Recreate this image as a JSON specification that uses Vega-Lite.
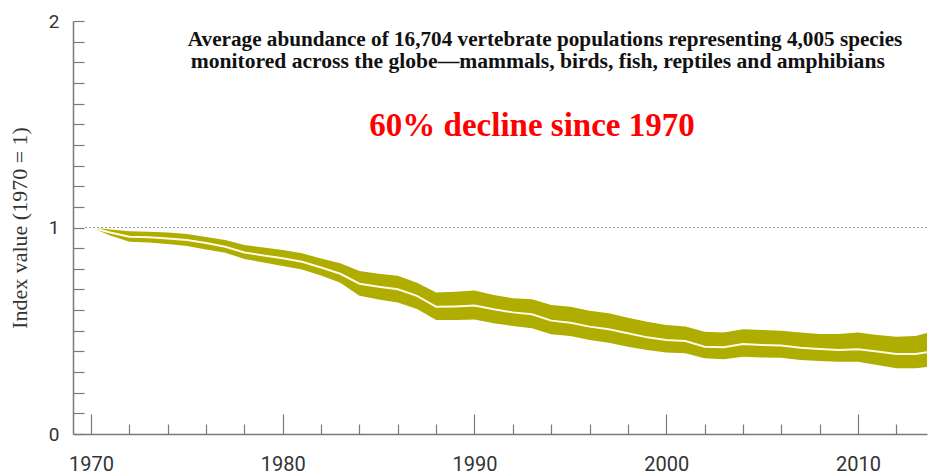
{
  "$schema": "https://vega.github.io/schema/vega-lite/v6.json",
  "width": 854,
  "height": 413,
  "autosize": "none",
  "padding": {"left": 73, "top": 21, "right": 1, "bottom": 41},
  "background": "white",
  "config": {"view": {"stroke": null}},
  "data": {
    "values": [
      {"year": 1970, "upper": 1.000, "mid": 1.000, "lower": 1.000},
      {"year": 1971, "upper": 0.990, "mid": 0.976, "lower": 0.961},
      {"year": 1972, "upper": 0.982, "mid": 0.955, "lower": 0.931},
      {"year": 1973, "upper": 0.980, "mid": 0.953, "lower": 0.927},
      {"year": 1974, "upper": 0.976, "mid": 0.947, "lower": 0.920},
      {"year": 1975, "upper": 0.969, "mid": 0.939, "lower": 0.910},
      {"year": 1976, "upper": 0.954, "mid": 0.925, "lower": 0.893},
      {"year": 1977, "upper": 0.939, "mid": 0.907, "lower": 0.878},
      {"year": 1978, "upper": 0.915, "mid": 0.879, "lower": 0.847},
      {"year": 1979, "upper": 0.903, "mid": 0.864, "lower": 0.831},
      {"year": 1980, "upper": 0.891, "mid": 0.851, "lower": 0.814},
      {"year": 1981, "upper": 0.875, "mid": 0.834, "lower": 0.797},
      {"year": 1982, "upper": 0.850, "mid": 0.806, "lower": 0.768},
      {"year": 1983, "upper": 0.827, "mid": 0.776, "lower": 0.732},
      {"year": 1984, "upper": 0.789, "mid": 0.728, "lower": 0.669},
      {"year": 1985, "upper": 0.776, "mid": 0.713, "lower": 0.651},
      {"year": 1986, "upper": 0.766, "mid": 0.701, "lower": 0.637},
      {"year": 1987, "upper": 0.732, "mid": 0.669, "lower": 0.605},
      {"year": 1988, "upper": 0.685, "mid": 0.616, "lower": 0.552},
      {"year": 1989, "upper": 0.689, "mid": 0.618, "lower": 0.552},
      {"year": 1990, "upper": 0.695, "mid": 0.622, "lower": 0.554},
      {"year": 1991, "upper": 0.673, "mid": 0.604, "lower": 0.536},
      {"year": 1992, "upper": 0.657, "mid": 0.589, "lower": 0.523},
      {"year": 1993, "upper": 0.652, "mid": 0.580, "lower": 0.512},
      {"year": 1994, "upper": 0.625, "mid": 0.549, "lower": 0.483},
      {"year": 1995, "upper": 0.616, "mid": 0.539, "lower": 0.475},
      {"year": 1996, "upper": 0.597, "mid": 0.520, "lower": 0.455},
      {"year": 1997, "upper": 0.585, "mid": 0.507, "lower": 0.442},
      {"year": 1998, "upper": 0.563, "mid": 0.488, "lower": 0.423},
      {"year": 1999, "upper": 0.544, "mid": 0.468, "lower": 0.407},
      {"year": 2000, "upper": 0.528, "mid": 0.455, "lower": 0.395},
      {"year": 2001, "upper": 0.520, "mid": 0.450, "lower": 0.391},
      {"year": 2002, "upper": 0.495, "mid": 0.423, "lower": 0.367},
      {"year": 2003, "upper": 0.491, "mid": 0.420, "lower": 0.362},
      {"year": 2004, "upper": 0.507, "mid": 0.436, "lower": 0.374},
      {"year": 2005, "upper": 0.504, "mid": 0.431, "lower": 0.371},
      {"year": 2006, "upper": 0.500, "mid": 0.428, "lower": 0.369},
      {"year": 2007, "upper": 0.491, "mid": 0.418, "lower": 0.358},
      {"year": 2008, "upper": 0.484, "mid": 0.412, "lower": 0.354},
      {"year": 2009, "upper": 0.484, "mid": 0.407, "lower": 0.350},
      {"year": 2010, "upper": 0.491, "mid": 0.410, "lower": 0.350},
      {"year": 2011, "upper": 0.479, "mid": 0.399, "lower": 0.334},
      {"year": 2012, "upper": 0.471, "mid": 0.387, "lower": 0.318},
      {"year": 2013, "upper": 0.475, "mid": 0.387, "lower": 0.318},
      {"year": 2014, "upper": 0.499, "mid": 0.402, "lower": 0.329}
    ]
  },
  "layer": [
    {
      "mark": {"type": "area", "color": "#aead00", "clip": true},
      "encoding": {
        "x": {
          "field": "year",
          "type": "quantitative",
          "scale": {"domain": [1969.06, 2013.6], "nice": false, "zero": false},
          "axis": {
            "title": null,
            "grid": false,
            "values": [1970,1971,1972,1973,1974,1975,1976,1977,1978,1979,1980,1981,1982,1983,1984,1985,1986,1987,1988,1989,1990,1991,1992,1993,1994,1995,1996,1997,1998,1999,2000,2001,2002,2003,2004,2005,2006,2007,2008,2009,2010,2011,2012,2013],
            "format": "d",
            "labelExpr": "datum.value % 10 === 0 ? datum.label : ''",
            "tickSize": {"condition": {"test": "datum.value % 10 === 0", "value": -20}, "value": -10},
            "labelFlush": false,
            "labelOverlap": false,
            "domainColor": "#7a7a7a",
            "domainWidth": 1.5,
            "tickColor": "#7a7a7a",
            "tickWidth": 1.2,
            "labelFont": "Roboto",
            "labelFontSize": 20,
            "labelColor": "#333333",
            "labelPadding": 40
          }
        },
        "y": {
          "field": "upper",
          "type": "quantitative",
          "scale": {"domain": [0, 2], "nice": false},
          "axis": {
            "title": "Index value (1970 = 1)",
            "grid": false,
            "values": [0,0.1,0.2,0.3,0.4,0.5,0.6,0.7,0.8,0.9,1,1.1,1.2,1.3,1.4,1.5,1.6,1.7,1.8,1.9,2],
            "labelExpr": "abs(datum.value - round(datum.value)) < 0.001 ? format(datum.value, 'd') : ''",
            "tickSize": {"condition": {"test": "datum.value > 5", "value": -11}, "value": -11},
            "tickCount": 21,
            "labelFlush": false,
            "labelOverlap": false,
            "domainColor": "#7a7a7a",
            "domainWidth": 1.5,
            "tickColor": "#7a7a7a",
            "tickWidth": 1.2,
            "labelFont": "Roboto",
            "labelFontSize": 19,
            "labelColor": "#333333",
            "labelPadding": 25,
            "titleFont": "Liberation Serif",
            "titleFontSize": 22,
            "titleFontWeight": "normal",
            "titleColor": "#333333",
            "titlePadding": 17
          }
        },
        "y2": {"field": "lower"}
      }
    },
    {
      "mark": {"type": "line", "color": "#fffbe8", "strokeWidth": 2, "clip": true},
      "encoding": {
        "x": {"field": "year", "type": "quantitative"},
        "y": {"field": "mid", "type": "quantitative", "title": "Index value (1970 = 1)"}
      }
    },
    {
      "data": {"values": [{}]},
      "mark": {"type": "rule", "stroke": "#808080", "strokeDash": [1.5, 2.5], "strokeWidth": 1.2},
      "encoding": {
        "x": {"datum": 1969.7, "type": "quantitative"},
        "x2": {"datum": 2014},
        "y": {"datum": 1, "type": "quantitative"}
      }
    },
    {
      "data": {"values": [{}]},
      "mark": {"type": "text", "text": "Average abundance of 16,704 vertebrate populations representing 4,005 species", "font": "Liberation Serif", "fontWeight": "bold", "fontSize": 21.2, "color": "#111111", "align": "center", "baseline": "middle"},
      "encoding": {
        "x": {"datum": 1993.68, "type": "quantitative"},
        "y": {"datum": 1.908, "type": "quantitative"}
      }
    },
    {
      "data": {"values": [{}]},
      "mark": {"type": "text", "text": "monitored across the globe—mammals, birds, fish, reptiles and amphibians", "font": "Liberation Serif", "fontWeight": "bold", "fontSize": 21.6, "color": "#111111", "align": "center", "baseline": "middle"},
      "encoding": {
        "x": {"datum": 1993.3, "type": "quantitative"},
        "y": {"datum": 1.801, "type": "quantitative"}
      }
    },
    {
      "data": {"values": [{}]},
      "mark": {"type": "text", "text": "60% decline since 1970", "font": "Liberation Serif", "fontWeight": "bold", "fontSize": 33, "color": "#ff0000", "align": "center", "baseline": "middle"},
      "encoding": {
        "x": {"datum": 1993.0, "type": "quantitative"},
        "y": {"datum": 1.4915, "type": "quantitative"}
      }
    }
  ]
}
